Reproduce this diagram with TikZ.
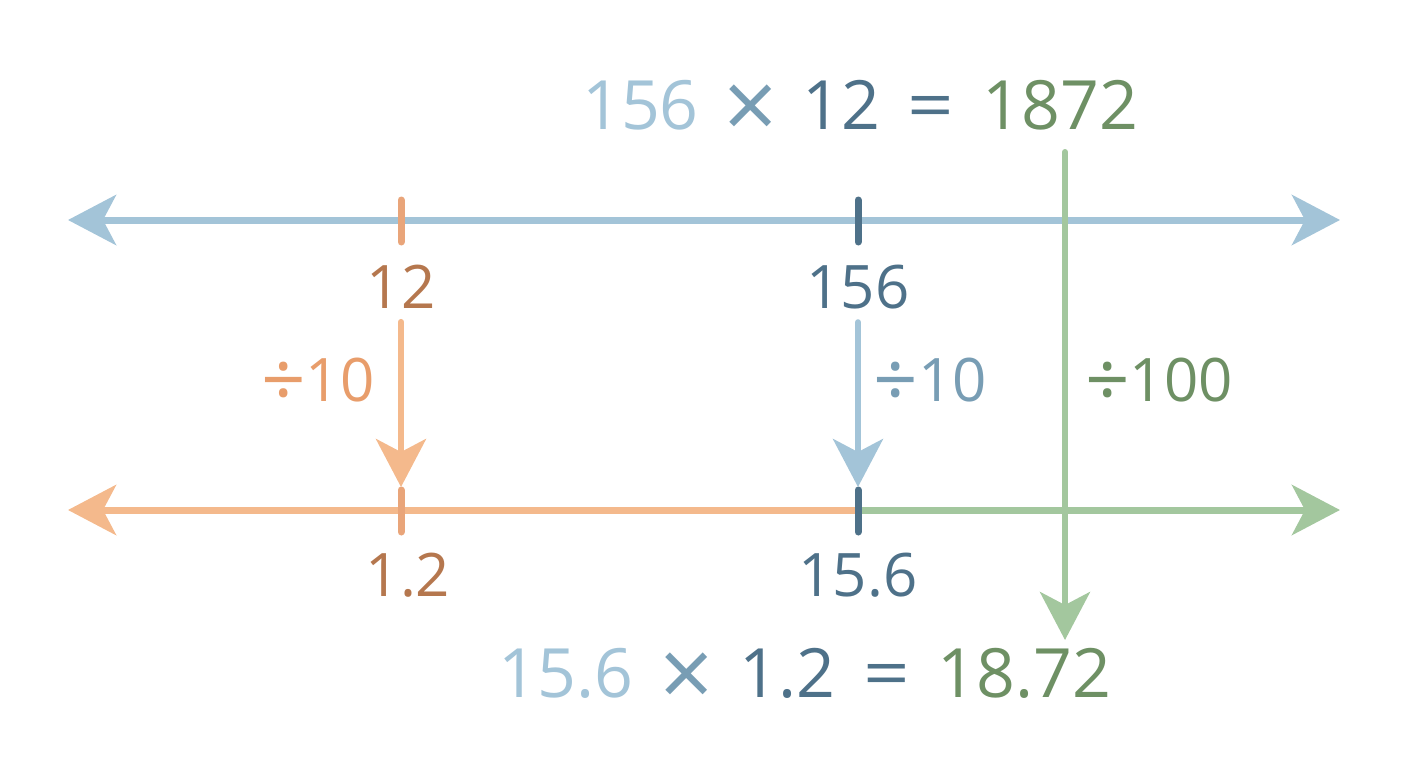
\documentclass[tikz,border=0pt]{standalone}
\usepackage{fontspec}
\usepackage{graphicx}
\setmainfont{Open Sans}
\usetikzlibrary{arrows.meta, calc, positioning}
\definecolor{lineblue}{HTML}{A3C4D8}
\definecolor{darkblue}{HTML}{4E7189}
\definecolor{midblue}{HTML}{789DB4}
\definecolor{lineorange}{HTML}{F4B98C}
\definecolor{tickorange}{HTML}{E9A57A}
\definecolor{textorange}{HTML}{B5774E}
\definecolor{divorange}{HTML}{E89D6B}
\definecolor{linegreen}{HTML}{A3C79E}
\definecolor{textgreen}{HTML}{6E9064}
\tikzset{
  >={Stealth[length=48pt, width=50pt, inset=13pt]},
}
\newcommand{\bigtimes}{\raisebox{-0.14em}{\scalebox{1.4}{×}}}
\newcommand{\bigdiv}{\raisebox{-0.1em}{\scalebox{1.3}{÷}}}
\newcommand{\bigeq}{\scalebox{1.2}[1]{=}}

\begin{document}
\begin{tikzpicture}[x=1pt, y=-1pt,
    numline/.style={line width=7pt, <->},
    halfline/.style={line width=7pt},
    tickmark/.style={line width=7pt, line cap=round},
    jump/.style={line width=6pt, line cap=round, ->},
    lbl/.style={inner sep=0pt, font=\fontsize{60}{72}\selectfont},
    eqn/.style={inner sep=0pt, font=\fontsize{68}{82}\selectfont}]
  \useasboundingbox (0,0) rectangle (1408,768);
  % points on the two number lines
  \coordinate (tl) at (68,220);
  \coordinate (tr) at (1340,220);
  \coordinate (bl) at (68,510);
  \coordinate (br) at (1340,510);
  \coordinate (t12) at (401,220);
  \coordinate (t156) at (858,220);
  \coordinate (b12) at (401,510);
  \coordinate (b156) at (858,510);
  \coordinate (gtop) at (1065,152);
  \coordinate (gbot) at (1065,640);
  % number lines
  \draw [numline, lineblue] (tl) -- (tr);
  \draw [halfline, lineorange, <-] (bl) -- (b156);
  \draw [halfline, linegreen, ->] (b156) -- (br);
  % ticks
  \draw [tickmark, tickorange] ($(t12)+(0,-20)$) -- ($(t12)+(0,22)$);
  \draw [tickmark, darkblue] ($(t156)+(0,-20)$) -- ($(t156)+(0,22)$);
  \draw [tickmark, tickorange] ($(b12)+(0,-20)$) -- ($(b12)+(0,22)$);
  \draw [tickmark, darkblue] ($(b156)+(0,-20)$) -- ($(b156)+(0,22)$);
  % labels
  \node [lbl, textorange] (n12) at (401,287) {12};
  \node [lbl, darkblue] (n156) at (858,287) {156};
  \node [lbl, textorange] (n1p2) at (408,575) {1.2};
  \node [lbl, darkblue] (n15p6) at (858,575) {15.6};
  \node [lbl, divorange] (divl) at (318,383) {\bigdiv10};
  \node [lbl, midblue] (divm) at (930,383) {\bigdiv10};
  \node [lbl, textgreen] (divr) at (1159,383) {\bigdiv100};
  % jumps
  \draw [jump, lineorange, shorten <=13pt, shorten >=23pt] (n12) -- (b12);
  \draw [jump, lineblue, shorten <=13pt, shorten >=23pt] (n156) -- (b156);
  \draw [jump, linegreen] (gtop) -- (gbot);
  % equations
  \node [eqn] (eqtop) at (860,110) {\textcolor{lineblue}{156}\hspace{0.1em}
    \textcolor{midblue}{\bigtimes}\hspace{0.1em} \textcolor{darkblue}{12}\hspace{0.15em}
    \textcolor{darkblue}{\bigeq}\hspace{0.15em} \textcolor{textgreen}{1872}};
  \node [eqn] (eqbot) at (805,678) {\textcolor{lineblue}{15.6}\hspace{0.12em}
    \textcolor{midblue}{\bigtimes}\hspace{0.12em} \textcolor{darkblue}{1.2}\hspace{0.15em}
    \textcolor{darkblue}{\bigeq}\hspace{0.15em} \textcolor{textgreen}{18.72}};
\end{tikzpicture}
\end{document}
